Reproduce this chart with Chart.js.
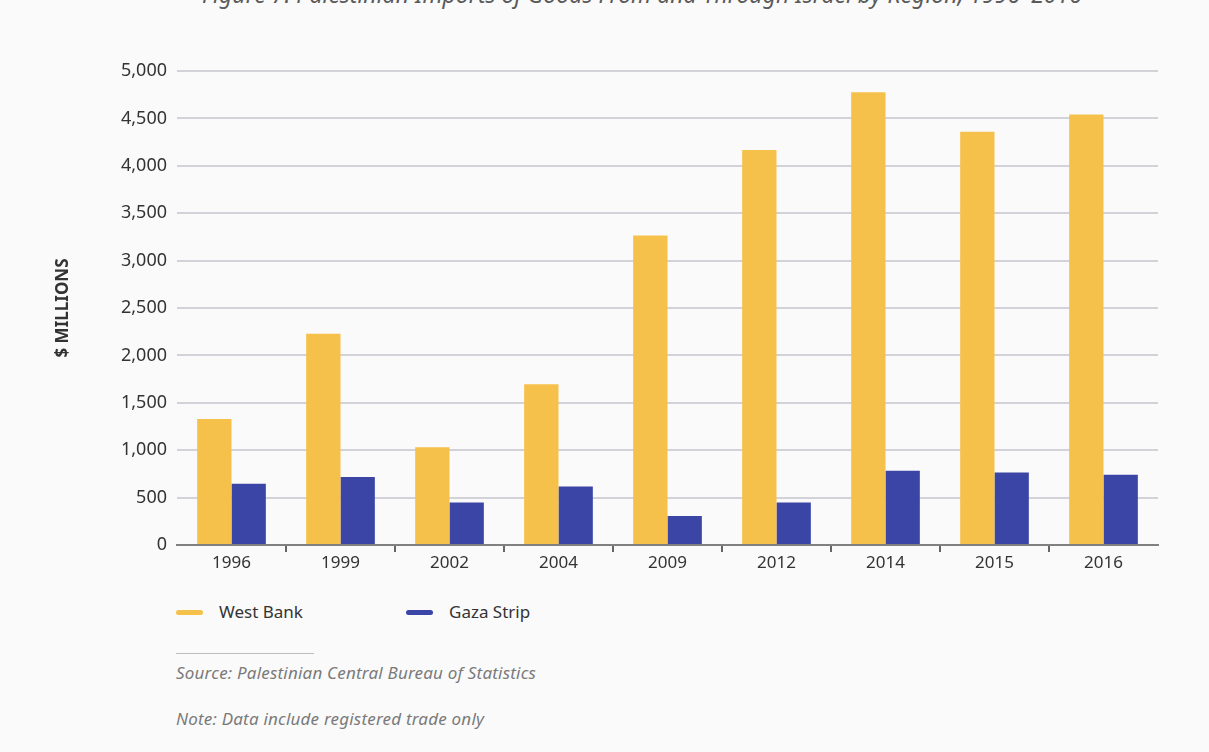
<!DOCTYPE html>
<html lang="en">
<head>
    <meta charset="UTF-8">
    <title>Palestinian Imports of Goods by Region</title>
    <script src="https://cdn.jsdelivr.net/npm/chart.js"></script>
    <style>
        body { margin: 0; background: #fafafa; font-family: "Noto Sans", sans-serif; }
        .page { position: relative; width: 1209px; height: 752px; overflow: hidden; }
        #chart { position: absolute; left: 0; top: 0; }
        .fig-title { position: absolute; top: -17px; left: 0; width: 1284px; text-align: center; font-size: 23px; line-height: 23px; font-style: italic; color: #5a5a5a; white-space: nowrap; }
        .legend { position: absolute; top: 601px; left: 176px; font-size: 17px; color: #333; }
        .legend span.item { position: absolute; white-space: nowrap; line-height: 22px; }
        .legend i { display: inline-block; width: 27px; height: 5px; border-radius: 3px; vertical-align: middle; margin-right: 16px; position: relative; top: -1px; }
        .rule { position: absolute; left: 176px; top: 653px; width: 138px; height: 1px; background: #bdbdbd; }
        .note { position: absolute; left: 176px; font-size: 17px; letter-spacing: 0.2px; font-style: italic; color: #7a7a7a; white-space: nowrap; }
    </style>
</head>
<body>
<div class="page">
    <div class="fig-title">Figure 7: Palestinian Imports of Goods From and Through Israel by Region, 1996–2016</div>
    <canvas id="chart" width="1209" height="600"></canvas>
    <div class="legend">
        <span class="item" style="left:0"><i style="background:#f5c14b"></i>West Bank</span>
        <span class="item" style="left:230px"><i style="background:#3a45a5"></i>Gaza Strip</span>
    </div>
    <div class="rule"></div>
    <div class="note" style="top:661px">Source: Palestinian Central Bureau of Statistics</div>
    <div class="note" style="top:707px">Note: Data include registered trade only</div>
</div>
<script>
// data (US$ millions)
const years = ['1996', '1999', '2002', '2004', '2009', '2012', '2014', '2015', '2016'];
const westBank = [1330, 2228, 1032, 1696, 3265, 4167, 4776, 4360, 4540];
const gazaStrip = [647, 717, 449, 618, 306, 449, 784, 766, 742];
const yTicks = [0, 500, 1000, 1500, 2000, 2500, 3000, 3500, 4000, 4500, 5000];

const ctx = document.getElementById('chart').getContext('2d');
const fontFamily = '"Noto Sans", sans-serif';

new Chart(ctx, {
    type: 'bar',
    data: {
        labels: years,
        datasets: [
            { label: 'West Bank', data: westBank, backgroundColor: '#f5c14b' },
            { label: 'Gaza Strip', data: gazaStrip, backgroundColor: '#3a45a5' }
        ]
    },
    options: {
        responsive: false,
        animation: false,
        layout: { padding: { left: 50, right: 51, top: 71, bottom: 15 } },
        plugins: {
            legend: { display: false },
            tooltip: { enabled: false }
        },
        datasets: {
            bar: { categoryPercentage: 0.63, barPercentage: 1.0 }
        },
        scales: {
            x: {
                grid: {
                    drawOnChartArea: false,
                    drawTicks: true,
                    tickLength: 7,
                    lineWidth: 2,
                    // hide the tick marks at both ends of the axis
                    tickColor: (c) => (c.type !== 'tick' || c.index === 0) ? 'rgba(0,0,0,0)' : '#666'
                },
                border: { display: true, color: '#808080', width: 2 },
                ticks: { color: '#333', font: { family: fontFamily, size: 17 }, padding: 1 },
                afterFit: (scale) => { scale.height = 40; }
            },
            y: {
                min: 0,
                max: 5000,
                afterBuildTicks: (scale) => { scale.ticks = yTicks.map(v => ({ value: v })); },
                grid: { color: '#d2d2d8', lineWidth: 2, drawTicks: false },
                border: { display: false },
                ticks: {
                    color: '#333',
                    padding: 10,
                    font: { family: fontFamily, size: 18 },
                    callback: (v) => Number(v).toLocaleString('en-US')
                },
                title: {
                    display: true,
                    text: '$ MILLIONS',
                    color: '#333',
                    font: { family: fontFamily, size: 17, weight: 'bold' },
                    padding: { top: 3, bottom: 0 }
                },
                afterFit: (scale) => { scale.width = 127; }
            }
        }
    }
});
</script>
</body>
</html>
